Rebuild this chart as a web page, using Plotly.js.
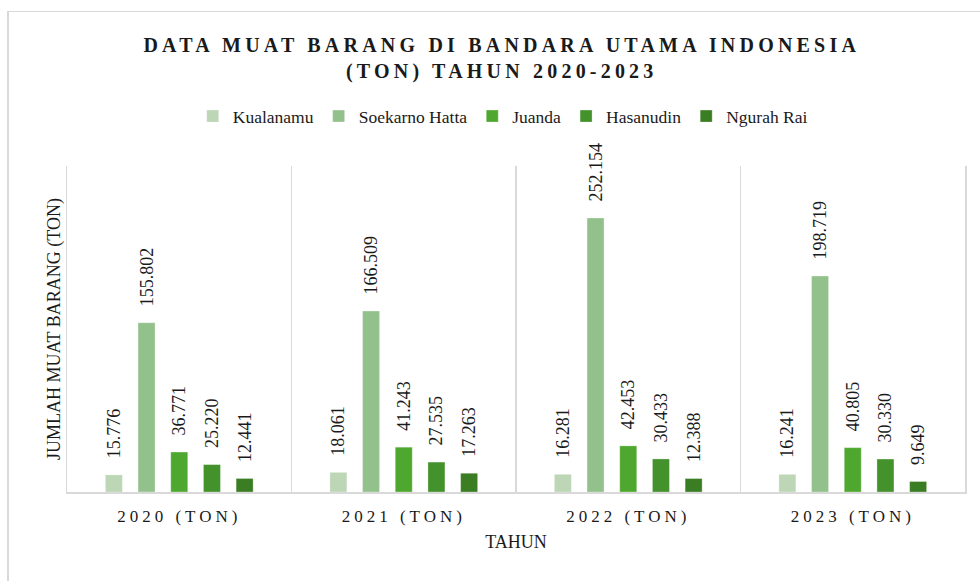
<!DOCTYPE html>
<html>
<head>
<meta charset="utf-8">
<script src="https://cdn.plot.ly/plotly-3.0.1.min.js"></script>
<style>
  html, body { margin: 0; padding: 0; background: #fff; overflow: hidden; }
  #wrap { position: relative; width: 980px; height: 581px; }
  #chart { width: 980px; height: 581px; }
  #frame { position: absolute; left: 7px; top: 11px; width: 1000px; height: 620px;
           border-left: 2px solid #d9d9d9; border-top: 1.5px solid #d9d9d9; pointer-events: none; box-sizing: border-box; }
  .gtitle { letter-spacing: 4.2px; }
  .xtick text { letter-spacing: 4px; }
</style>
</head>
<body>
<div id="wrap">
  <div id="chart"></div>
  <div id="frame"></div>
</div>
<script>
const categories = ["2020 (TON)", "2021 (TON)", "2022 (TON)", "2023 (TON)"];
const kualanamu = [15776, 18061, 16281, 16241];
const soekarnoHatta = [155802, 166509, 252154, 198719];
const juanda = [36771, 41243, 42453, 40805];
const hasanudin = [25220, 27535, 30433, 30330];
const ngurahRai = [12441, 17263, 12388, 9649];

const seriesNames = ["Kualanamu", "Soekarno Hatta", "Juanda", "Hasanudin", "Ngurah Rai"];
const seriesValues = [kualanamu, soekarnoHatta, juanda, hasanudin, ngurahRai];
const seriesColors = ["#bcd6b6", "#93c18b", "#4ea72e", "#43922b", "#3a7d22"];

const serif = "'Liberation Serif', 'Times New Roman', serif";

const traces = seriesNames.map((name, i) => ({
  type: "bar",
  name: name,
  x: categories,
  y: seriesValues[i],
  marker: { color: seriesColors[i], line: { color: "rgba(255,255,255,0.6)", width: 0.5 } },
  texttemplate: "\u00a0\u00a0\u00a0%{y:,}",
  textposition: "outside",
  textangle: -90,
  constraintext: "none",
  cliponaxis: false,
  textfont: { family: serif, size: 18, color: "#1a1a1a" },
  hoverinfo: "skip"
}));

const layout = {
  width: 980,
  height: 581,
  margin: { l: 67, r: 15, t: 166, b: 89 },
  paper_bgcolor: "#ffffff",
  plot_bgcolor: "#ffffff",
  separators: ",.",
  font: { family: serif, color: "#1a1a1a" },
  title: {
    text: "<b>DATA MUAT BARANG DI BANDARA UTAMA INDONESIA<br>(TON) TAHUN 2020-2023</b>",
    font: { family: serif, size: 20, color: "#1a1a1a", weight: "bold" },
    x: 0.512, xanchor: "center",
    y: 0.911, yanchor: "top", yref: "container"
  },
  showlegend: true,
  legend: {
    orientation: "h",
    x: 0.513, xanchor: "center", xref: "container",
    y: 0.8, yanchor: "middle", yref: "container",
    font: { family: serif, size: 17.5, color: "#1a1a1a" },
    itemwidth: 30,
    traceorder: "normal"
  },
  barmode: "group",
  bargap: 0.272,
  bargroupgap: 0.48,
  xaxis: {
    type: "category",
    showline: true, linecolor: "#d9d9d9", linewidth: 2,
    showgrid: true, gridcolor: "#d9d9d9", gridwidth: 1.5,
    tickson: "boundaries",
    ticks: "",
    ticklabelstandoff: 8,
    tickfont: { family: serif, size: 17, color: "#1a1a1a" },
    title: { text: "TAHUN", font: { family: serif, size: 18, color: "#1a1a1a" }, standoff: 10 },
    fixedrange: true
  },
  yaxis: {
    range: [0, 300000],
    showticklabels: false,
    showgrid: false,
    zeroline: false,
    ticks: "",
    showline: true, linecolor: "#d9d9d9", linewidth: 1.5, mirror: true,
    title: { text: "JUMLAH MUAT BARANG (TON)", font: { family: serif, size: 18, color: "#1a1a1a" }, standoff: 0 },
    fixedrange: true
  }
};

Plotly.newPlot("chart", traces, layout, { displayModeBar: false, staticPlot: true });
</script>
</body>
</html>
